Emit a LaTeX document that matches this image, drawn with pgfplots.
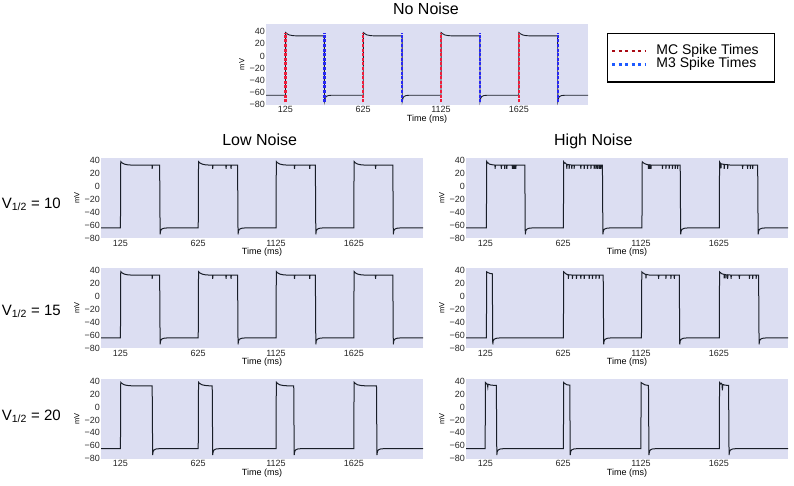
\documentclass[border=0pt]{standalone}
\usepackage{pgfplots}
\pgfplotsset{compat=1.18}
\usepackage{fontspec}
\setmainfont{Liberation Sans}
\definecolor{bgcol}{RGB}{220,222,242}
\definecolor{trace}{RGB}{25,30,40}
\definecolor{mcline}{RGB}{240,30,60}
\definecolor{m3line}{RGB}{40,40,245}
\definecolor{mcleg}{RGB}{170,10,20}
\definecolor{m3leg}{RGB}{30,90,255}
\pgfplotsset{
  panel/.style={
    scale only axis, width=322pt, height=80pt,
    xmin=0, xmax=2070, ymin=-80.5, ymax=43.5,
    axis background/.style={fill=bgcol},
    axis line style={draw=none}, major tick length=0pt,
    xtick={125,625,1125,1625}, xticklabels={125,625,1125,1625},
    ytick={-80,-60,-40,-20,0,20,40}, yticklabels={−80,−60,−40,−20,0,20,40},
    tick label style={font=\fontsize{9}{9}\selectfont, text=black!85},
    yticklabel style={inner xsep=1pt},
    xticklabel style={inner ysep=1.5pt},
    xlabel={Time (ms)}, ylabel={mV},
    xlabel style={font=\fontsize{9}{9}\selectfont, at={(axis description cs:0.5,-0.175)}, anchor=center},
    ylabel style={font=\fontsize{7.5}{7.5}\selectfont, at={(axis description cs:-0.075,0.5)}, anchor=center},
  },
  tr/.style={color=trace, line width=1pt, sharp plot},
}
\begin{document}
\begin{tikzpicture}
\path[use as bounding box] (0,0) rectangle (794pt,-485pt);
% ---------- No noise ----------
\begin{axis}[panel, at={(266pt,-24pt)}, anchor=north west, height=81pt, ymax=52.5,
  xlabel style={at={(axis description cs:0.5,-0.173)}},
  unbounded coords=jump,
  legend style={at={(axis description cs:1.059,0.889)}, anchor=north west, draw=black, line width=1.3pt, fill=white,
    font=\fontsize{14}{14}\selectfont, inner xsep=3.3pt, inner ysep=12pt, row sep=2.3pt,
    nodes={inner xsep=0pt, inner ysep=0pt, text height=9pt, text depth=2pt}},
  legend cell align=left,
  legend image code/.code={\draw[#1] (0pt,0pt) -- (33pt,0pt); \path (43pt,0pt);}]
\addplot[tr, line width=0.9pt, forget plot] coordinates {
(0,-64.5) (125,-64.5) (126,38.5) (135,36.5) (150,34.5) (170,33.5) (195,33) (375,33) (376,-74.5) (381,-69) (387,-66.5) (400,-65) (420,-64.5)
(625,-64.5) (626,38.5) (635,36.5) (650,34.5) (670,33.5) (695,33) (875,33) (876,-74.5) (881,-69) (887,-66.5) (900,-65) (920,-64.5)
(1125,-64.5) (1126,38.5) (1135,36.5) (1150,34.5) (1170,33.5) (1195,33) (1375,33) (1376,-74.5) (1381,-69) (1387,-66.5) (1400,-65) (1420,-64.5)
(1625,-64.5) (1626,38.5) (1635,36.5) (1650,34.5) (1670,33.5) (1695,33) (1875,33) (1876,-74.5) (1881,-69) (1887,-66.5) (1900,-65) (1920,-64.5) (2070,-64.5)};
\addplot[mcline, line width=2.2pt, dash pattern=on 3pt off 1.6pt, forget plot] coordinates {
(125,-76) (125,38.5) (125,nan) (625,-76) (625,38.5) (625,nan) (1125,-76) (1125,38.5) (1125,nan) (1625,-76) (1625,38.5)};
\addplot[m3line, line width=2.2pt, dash pattern=on 3pt off 1.6pt, forget plot] coordinates {
(375.5,-76) (375.5,38.5) (375.5,nan) (875.5,-76) (875.5,38.5) (875.5,nan) (1375.5,-76) (1375.5,38.5) (1375.5,nan) (1875.5,-76) (1875.5,38.5)};
\addlegendimage{mcleg, line width=2.5pt, dash pattern=on 3pt off 3.5pt}
\addlegendentry{MC Spike Times\hspace*{12.3pt}}
\addlegendimage{m3leg, line width=2.5pt, dash pattern=on 3pt off 3.5pt}
\addlegendentry{M3 Spike Times\hspace*{12.3pt}}
\end{axis}
% ---------- Low noise, V=10 ----------
\begin{axis}[panel, at={(101pt,-158.3pt)}, anchor=north west]
\addplot[tr] coordinates {
(0,-64.5) (125,-64.5) (127,38.5) (135,36.5) (150,34.5) (170,33.5) (195,33) (328,33) (329,27) (331,33) (377,33) (380,-74.5) (383,-69) (389,-66.5) (402,-65) (422,-64.5)
(625,-64.5) (627,38.5) (635,36.5) (650,34.5) (670,33.5) (695,33) (717,33) (718,27) (720,33) (803,33) (804,27) (806,33) (835,33) (836,27) (838,33) (878,33) (881,-74.5) (884,-69) (890,-66.5) (903,-65) (923,-64.5)
(1125,-64.5) (1127,38.5) (1135,36.5) (1150,34.5) (1170,33.5) (1195,33) (1243,33) (1244,27) (1246,33) (1341,33) (1342,27) (1344,33) (1378,33) (1381,-74.5) (1384,-69) (1390,-66.5) (1403,-65) (1423,-64.5)
(1625,-64.5) (1627,38.5) (1635,36.5) (1650,34.5) (1670,33.5) (1695,33) (1764,33) (1765,27) (1767,33) (1876,33) (1879,-74.5) (1882,-69) (1888,-66.5) (1901,-65) (1921,-64.5) (2070,-64.5)};
\end{axis}
% ---------- High noise, V=10 ----------
\begin{axis}[panel, at={(466pt,-158.3pt)}, anchor=north west]
\addplot[tr] coordinates {
(0,-64.5) (131,-64.5) (133,38) (137,36) (140,37) (150,34.5) (170,33.5) (186,33) (187,27) (189,33) (226,33) (227,27) (229,33) (248,33) (249,27) (251,33) (261,33) (262,27) (264,33) (297,33) (298,27) (300,33) (304,33) (305,27) (307,33) (309,27) (311,33) (315,33) (316,27) (318,33) (320,27) (322,33) (378,33) (381,-74.5) (384,-69) (390,-66.5) (403,-65) (423,-64.5)
(626,-64.5) (628,38) (633,36) (637,36.5) (647,34) (648,27) (650,34) (662,33.5) (663,27) (665,33.5) (679,33) (680,27) (682,33) (694,33) (695,27) (697,33) (737,33) (738,27) (740,33) (759,33) (760,27) (762,33) (780,33) (781,27) (783,33) (802,33) (803,27) (805,33) (823,33) (824,27) (826,33) (834,33) (835,27) (837,33) (844,33) (845,27) (847,33) (855,33) (856,27) (858,33) (862,33) (863,27) (865,33) (866,33) (867,27) (869,33) (877,33) (880,-74.5) (883,-69) (889,-66.5) (902,-65) (922,-64.5)
(1131,-64.5) (1133,38) (1140,36.5) (1155,34.5) (1172,33.5) (1173,27) (1175,33.5) (1180,33.5) (1181,27) (1183,33.5) (1188,33) (1189,27) (1191,33) (1262,33) (1263,27) (1265,33) (1284,33) (1285,27) (1287,33) (1305,33) (1306,27) (1308,33) (1326,33) (1327,27) (1329,33) (1344,33) (1345,27) (1347,33) (1359,33) (1360,27) (1362,33) (1377,33) (1380,-74.5) (1383,-69) (1389,-66.5) (1402,-65) (1422,-64.5)
(1628,-64.5) (1630,38) (1635,36) (1638,34.5) (1639,28) (1641,35) (1659,34) (1660,27) (1662,34) (1681,33.5) (1682,27) (1684,33.5) (1700,33) (1777,33) (1778,27) (1780,33) (1809,33) (1810,27) (1812,33) (1827,33) (1828,27) (1830,33) (1842,33) (1843,27) (1845,33) (1875,33) (1878,-74.5) (1881,-69) (1887,-66.5) (1900,-65) (1920,-64.5) (2070,-64.5)};
\end{axis}
% ---------- Low noise, V=15 ----------
\begin{axis}[panel, at={(101pt,-268.3pt)}, anchor=north west]
\addplot[tr] coordinates {
(0,-64.5) (125,-64.5) (127,38.5) (135,36.5) (150,34.5) (170,33.5) (195,33) (328,33) (329,27) (331,33) (377,33) (380,-74.5) (383,-69) (389,-66.5) (402,-65) (422,-64.5)
(625,-64.5) (627,38.5) (635,36.5) (650,34.5) (670,33.5) (695,33) (717,33) (718,27) (720,33) (803,33) (804,27) (806,33) (835,33) (836,27) (838,33) (878,33) (881,-74.5) (884,-69) (890,-66.5) (903,-65) (923,-64.5)
(1125,-64.5) (1127,38.5) (1135,36.5) (1150,34.5) (1170,33.5) (1195,33) (1243,33) (1244,27) (1246,33) (1341,33) (1342,27) (1344,33) (1378,33) (1381,-74.5) (1384,-69) (1390,-66.5) (1403,-65) (1423,-64.5)
(1625,-64.5) (1627,38.5) (1635,36.5) (1650,34.5) (1670,33.5) (1695,33) (1764,33) (1765,27) (1767,33) (1876,33) (1879,-74.5) (1882,-69) (1888,-66.5) (1901,-65) (1921,-64.5) (2070,-64.5)};
\end{axis}
% ---------- High noise, V=15 ----------
\begin{axis}[panel, at={(466pt,-268.3pt)}, anchor=north west]
\addplot[tr] coordinates {
(0,-64.5) (131,-64.5) (133,38) (140,37) (155,35.5) (169,35) (172,-74.5) (175,-69) (181,-66.5) (194,-65) (214,-64.5)
(626,-64.5) (628,38) (635,36.5) (645,34.5) (657,33.5) (658,27) (660,33.5) (683,33) (684,27) (686,33) (709,33) (710,27) (712,33) (737,33) (738,27) (740,33) (759,33) (760,27) (762,33) (791,33) (792,27) (794,33) (812,33) (813,27) (815,33) (834,33) (835,27) (837,33) (855,33) (856,27) (858,33) (882,33) (885,-74.5) (888,-69) (894,-66.5) (907,-65) (927,-64.5)
(1128,-64.5) (1130,38) (1137,36.5) (1150,34.5) (1156,34) (1157,28) (1159,34) (1180,33) (1237,33) (1238,27) (1240,33) (1284,33) (1285,27) (1287,33) (1316,33) (1317,27) (1319,33) (1338,33) (1339,27) (1341,33) (1371,33) (1374,-74.5) (1377,-69) (1383,-66.5) (1396,-65) (1416,-64.5)
(1628,-64.5) (1630,38) (1637,36.5) (1645,35) (1659,34) (1660,28) (1662,34) (1670,33.5) (1671,28) (1673,33.5) (1681,33.5) (1682,27) (1684,33.5) (1703,33) (1704,27) (1706,33) (1756,33) (1757,27) (1759,33) (1821,33) (1822,27) (1824,33) (1842,33) (1843,27) (1845,33) (1864,33) (1865,27) (1867,33) (1881,33) (1884,-74.5) (1887,-69) (1893,-66.5) (1906,-65) (1926,-64.5) (2070,-64.5)};
\end{axis}
% ---------- Low noise, V=20 ----------
\begin{axis}[panel, at={(101pt,-379pt)}, anchor=north west]
\addplot[tr] coordinates {
(0,-64.5) (125,-64.5) (127,38.5) (135,36.5) (150,34.5) (170,33.5) (195,33) (329,33) (332,-74.5) (335,-69) (341,-66.5) (354,-65) (374,-64.5)
(625,-64.5) (627,38.5) (635,36.5) (650,34.5) (670,33.5) (695,33) (715,33) (718,-74.5) (721,-69) (727,-66.5) (740,-65) (760,-64.5)
(1125,-64.5) (1127,38.5) (1135,36.5) (1150,34.5) (1170,33.5) (1195,33) (1239,33) (1242,-74.5) (1245,-69) (1251,-66.5) (1264,-65) (1284,-64.5)
(1625,-64.5) (1627,38.5) (1635,36.5) (1650,34.5) (1670,33.5) (1695,33) (1771,33) (1774,-74.5) (1777,-69) (1783,-66.5) (1796,-65) (1816,-64.5) (2070,-64.5)};
\end{axis}
% ---------- High noise, V=20 ----------
\begin{axis}[panel, at={(466pt,-379pt)}, anchor=north west]
\addplot[tr] coordinates {
(0,-64.5) (123,-64.5) (125,38) (132,36.5) (138,34) (140,31) (142,35.5) (160,34) (195,33.5) (198,-74.5) (201,-69) (207,-66.5) (220,-65) (240,-64.5)
(626,-64.5) (628,38) (635,36.5) (650,34.5) (667,34) (670,-74.5) (673,-69) (679,-66.5) (692,-65) (712,-64.5)
(1124,-64.5) (1126,38) (1135,36.5) (1150,34.5) (1173,33.5) (1176,-74.5) (1179,-69) (1185,-66.5) (1198,-65) (1218,-64.5)
(1628,-64.5) (1630,38) (1636,36) (1640,37) (1646,35) (1648,26) (1651,35) (1665,34) (1688,33.5) (1691,-74.5) (1694,-69) (1700,-66.5) (1713,-65) (1733,-64.5) (2070,-64.5)};
\end{axis}
% ---------- titles ----------
\node[anchor=base, font=\fontsize{16}{16}\selectfont, inner sep=0pt] at (426pt,-14.3pt) {No Noise};
\node[anchor=base, font=\fontsize{16}{16}\selectfont, inner sep=0pt] at (259.7pt,-145.7pt) {Low Noise};
\node[anchor=base, font=\fontsize{16}{16}\selectfont, inner sep=0pt] at (593.3pt,-145.7pt) {High Noise};
\node[anchor=base west, font=\fontsize{15}{15}\selectfont, inner sep=0pt] at (1.7pt,-208.3pt) {V\textsubscript{1/2} = 10};
\node[anchor=base west, font=\fontsize{15}{15}\selectfont, inner sep=0pt] at (1.7pt,-315pt) {V\textsubscript{1/2} = 15};
\node[anchor=base west, font=\fontsize{15}{15}\selectfont, inner sep=0pt] at (1.7pt,-420pt) {V\textsubscript{1/2} = 20};
\end{tikzpicture}
\end{document}
